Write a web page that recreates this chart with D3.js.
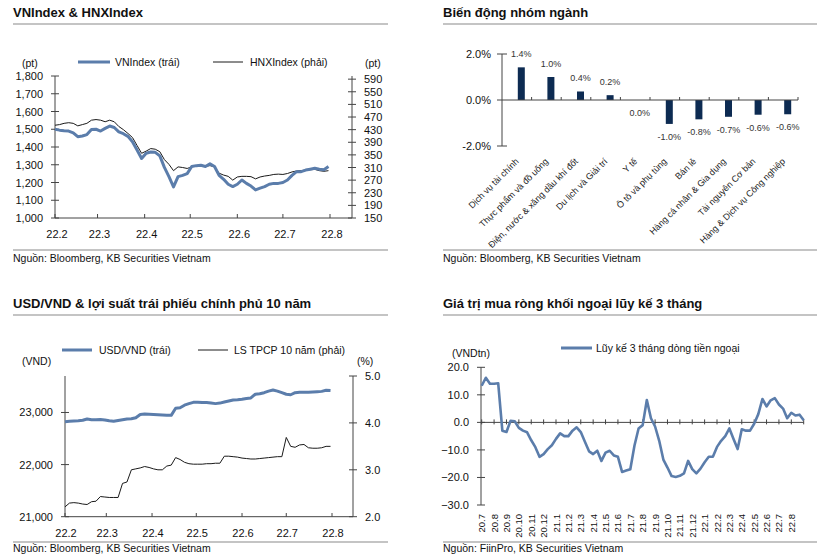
<!DOCTYPE html>
<html><head><meta charset="utf-8">
<script src="https://cdn.jsdelivr.net/npm/d3@7"></script>
<style>
body{margin:0;background:#fff}
svg{display:block}
text{font-family:"Liberation Sans",Arial,sans-serif;fill:#111}
</style>
</head><body><svg id="c" width="821" height="560"></svg>
<script>
// ---------- DATA ----------
// Panel 1: VNIndex & HNXIndex, one reading every 3 days from 2022-02-01
const idxStart = "2022-02-01";
const idxStepDays = 3;
const vnIndex = [1500,1495,1492,1490,1480,1458,1462,1470,1498,1500,
  1490,1505,1518,1510,1485,1475,1460,1430,1383,1335,
  1365,1372,1370,1350,1285,1233,1175,1233,1240,1250,
  1290,1295,1297,1290,1305,1290,1240,1218,1190,1177,
  1190,1214,1195,1180,1158,1168,1177,1190,1195,1195,
  1200,1214,1240,1261,1261,1270,1275,1280,1275,1272,1290];
const hnxIndex = [444,446,450,452,450,442,446,450,460,462,
  460,455,460,455,440,430,418,405,380,355,
  362,370,368,360,335,320,300,312,310,307,
  312,316,318,314,316,312,292,286,282,270,
  280,282,282,281,274,280,283,285,288,289,
  288,291,296,299,300,302,303,304,300,298,300];
const vnTicks = [1000,1100,1200,1300,1400,1500,1600,1700,1800];
const hnxTicks = [150,190,230,270,310,350,390,430,470,510,550,590];
const monthTickLabels = ["22.2","22.3","22.4","22.5","22.6","22.7","22.8"];

// Panel 2: sector performance (%)
const sectors = ["Dịch vụ tài chính","Thực phẩm và đồ uống","Điện, nước & xăng dầu khí đốt","Du lịch và Giải trí","Y tế","Ô tô và phụ tùng","Bán lẻ","Hàng cá nhân & Gia dụng","Tài nguyên Cơ bản","Hàng & Dịch vụ Công nghiệp"];
const sectorChange = [1.42,1.00,0.37,0.21,0.00,-1.04,-0.84,-0.73,-0.64,-0.62];
const sectorTicks = [-2,0,2];

// Panel 3: USD/VND & 10y bond yield, every 3 days from 2022-02-01
const usdVnd = [22823,22830,22835,22840,22850,22875,22860,22860,22865,22855,
  22840,22830,22845,22860,22875,22880,22900,22960,22970,22965,
  22960,22955,22950,22945,22945,23080,23090,23140,23170,23195,
  23195,23190,23190,23180,23170,23180,23200,23220,23240,23245,
  23255,23270,23280,23350,23360,23380,23410,23430,23410,23380,
  23350,23340,23380,23390,23390,23390,23395,23400,23405,23425,23420];
const bondYield = [2.21,2.29,2.30,2.29,2.27,2.26,2.32,2.33,2.43,2.42,
  2.41,2.41,2.41,2.71,2.74,3.00,3.02,3.04,3.07,3.05,
  3.02,3.00,3.00,3.08,3.10,3.26,3.22,3.16,3.13,3.12,
  3.12,3.12,3.13,3.13,3.14,3.14,3.29,3.29,3.28,3.27,
  3.25,3.24,3.23,3.23,3.24,3.25,3.26,3.27,3.28,3.28,
  3.69,3.50,3.48,3.53,3.54,3.47,3.46,3.46,3.47,3.50,3.50];
const usdTicks = [21000,22000,23000];
const bondTicks = [2,3,4,5];

// Panel 4: 3-month cumulative foreign flow (VND tn), 3 readings per month from Jul 2020
const flowPerMonth = 3;
const foreignFlow = [13.3,16.2,14.0,14.0,14.2,-3.0,-3.5,0.6,0.4,-2.0,
  -3.0,-3.6,-6.5,-9.0,-12.5,-11.5,-9.7,-8.3,-6.0,-4.0,
  -5.0,-5.0,-3.0,-1.8,-3.5,-7.0,-10.5,-11.5,-10.3,-14.0,
  -11.0,-10.3,-12.0,-12.5,-18.0,-17.5,-17.0,-8.5,-2.2,-1.0,
  8.1,1.5,-1.5,-6.7,-13.5,-16.4,-19.5,-19.8,-19.4,-18.5,
  -14.0,-17.0,-18.5,-16.8,-14.5,-12.5,-12.5,-8.9,-6.7,-5.0,
  -2.2,-6.0,-9.7,-2.5,-3.0,-3.0,-0.5,3.0,8.5,5.8,
  8.0,8.8,6.5,5.0,1.5,3.5,2.5,2.8,0.8];
const flowMonths = ["20.7","20.8","20.9","20.10","20.11","20.12","21.1","21.2","21.3","21.4","21.5","21.6","21.7","21.8","21.9","21.10","21.11","21.12","22.1","22.2","22.3","22.4","22.5","22.6","22.7","22.8"];
const flowTicks = [20,10,0,-10,-20,-30];

// ---------- STYLE ----------
const BLUE = "#5b7dab", BLACK = "#1a1a1a", AXIS = "#444", RULE = "#c4c4c4", BAR = "#0d2b52";
const svg = d3.select("#c");

function txt(g, x, y, s, o = {}) {
  return g.append("text").attr("x", x).attr("y", y).text(s)
    .attr("font-size", o.size || 10.5).attr("font-weight", o.bold ? "bold" : null)
    .attr("text-anchor", o.anchor || "start");
}
function line(g, x1, y1, x2, y2, c = AXIS, w = 1) {
  g.append("line").attr("x1", x1).attr("y1", y1).attr("x2", x2).attr("y2", y2)
    .attr("stroke", c).attr("stroke-width", w);
}
function panelFrame(x0, x1, titleY, title, ruleY, srcRuleY, srcY, src) {
  txt(svg, x0, titleY, title, {size: 13, bold: true});
  line(svg, x0, ruleY, x1, ruleY, RULE, 2);
  line(svg, x0, srcRuleY, x1, srcRuleY, RULE, 2);
  txt(svg, x0, srcY, src, {size: 10.5});
}
function vAxis(g, scale, ticks, x, fmt, side) {
  const [r0, r1] = scale.range();
  line(g, x, r0, x, r1);
  ticks.forEach(t => {
    const y = scale(t);
    line(g, x - 4, y, x + 4, y);
    if (side === "left") txt(g, x - 12, y + 4, fmt(t), {size: 11, anchor: "end"});
    else txt(g, x + 12, y + 4, fmt(t), {size: 11});
  });
}

const dateParse = d3.timeParse("%Y-%m-%d");
const t0 = dateParse(idxStart);
const idxDates = vnIndex.map((_, i) => d3.timeDay.offset(t0, i * idxStepDays));
const monthDates = monthTickLabels.map((_, i) => d3.timeMonth.offset(t0, i));
const comma = d3.format(",");

// ---------- PANEL 1 ----------
{
  panelFrame(13, 388, 17, "VNIndex & HNXIndex", 24, 250, 262, "Nguồn: Bloomberg, KB Securities Vietnam");
  const g = svg.append("g");
  const x = d3.scaleTime().domain([monthDates[0], monthDates[monthDates.length - 1]]).range([55, 330]);
  const yL = d3.scaleLinear().domain([1000, 1800]).range([218, 76]);
  const yR = d3.scaleLinear().domain([150, 600]).range([218, 76]);
  vAxis(g, yL, vnTicks, 55, comma, "left");
  vAxis(g, yR, hnxTicks, 352, d3.format("d"), "right");
  line(g, 55, 218, 352, 218);
  monthDates.forEach((d, i) => {
    line(g, x(d), 218, x(d), 214);
    txt(g, x(d) + 2, 238, monthTickLabels[i], {size: 11, anchor: "middle"});
  });
  txt(g, 22, 67, "(pt)", {size: 10.5});
  txt(g, 365, 67, "(pt)", {size: 10.5});
  line(g, 78, 62, 110, 62, BLUE, 3);
  txt(g, 115, 66, "VNIndex (trái)", {size: 10.5});
  line(g, 213, 62, 243, 62, BLACK, 1);
  txt(g, 250, 66, "HNXIndex (phải)", {size: 10.5});
  g.append("path").datum(hnxIndex).attr("fill", "none").attr("stroke", BLACK).attr("stroke-width", 1)
    .attr("d", d3.line().x((d, i) => x(idxDates[i])).y(d => yR(d)));
  g.append("path").datum(vnIndex).attr("fill", "none").attr("stroke", BLUE).attr("stroke-width", 3)
    .attr("stroke-linejoin", "round")
    .attr("d", d3.line().x((d, i) => x(idxDates[i])).y(d => yL(d)));
}

// ---------- PANEL 2 ----------
{
  panelFrame(443, 817, 17, "Biến động nhóm ngành", 24, 250, 262, "Nguồn: Bloomberg, KB Securities Vietnam");
  const g = svg.append("g");
  const x = d3.scaleBand().domain(sectors).range([502, 798]);
  const y = d3.scaleLinear().domain([-2, 2]).range([146, 54]);
  const off = 4.5, bw = 7;
  sectorTicks.forEach(t => {
    line(g, 497, y(t), t === 0 ? 502 : 507, y(t));
    txt(g, 491, y(t) + 4, t.toFixed(1) + "%", {size: 11, anchor: "end"});
  });
  line(g, 502, y(2), 502, y(-2));
  sectors.forEach((s, i) => {
    const v = sectorChange[i];
    const cx = x(s) + x.bandwidth() / 2 + off;
    g.append("rect").attr("x", cx - bw / 2).attr("width", bw)
      .attr("y", Math.min(y(v), y(0))).attr("height", Math.abs(y(v) - y(0))).attr("fill", BAR);
    const ly = v > 0 ? y(v) - 13 : y(v) + 13;
    txt(g, cx, ly + 3, v.toFixed(1) + "%", {size: 9, anchor: "middle"}).style("fill", "#333");
    g.append("text").attr("transform", `translate(${cx - 2},162) rotate(-45)`)
      .attr("text-anchor", "end").attr("font-size", 9).style("fill", "#222").text(s);
    line(g, x(s) + x.bandwidth(), y(0), x(s) + x.bandwidth(), y(0) - 3);
  });
  line(g, 502, y(0), 798, y(0));
}

// ---------- PANEL 3 ----------
{
  panelFrame(13, 388, 308, "USD/VND & lợi suất trái phiếu chính phủ 10 năm", 315, 542, 552, "Nguồn: Bloomberg, KB Securities Vietnam");
  const g = svg.append("g");
  const x = d3.scaleTime().domain([monthDates[0], monthDates[monthDates.length - 1]]).range([65, 332]);
  const yL = d3.scaleLinear().domain([21000, 23700]).range([516.7, 376]);
  const yR = d3.scaleLinear().domain([2, 5]).range([516.7, 376]);
  vAxis(g, yL, usdTicks, 65, comma, "left");
  vAxis(g, yR, bondTicks, 353, d3.format(".1f"), "right");
  line(g, 65, 516.7, 353, 516.7);
  monthDates.forEach((d, i) => {
    line(g, x(d), 516.7, x(d), 513);
    txt(g, x(d) + 1, 537, monthTickLabels[i], {size: 11, anchor: "middle"});
  });
  txt(g, 22, 365, "(VND)", {size: 10.5});
  txt(g, 357, 365, "(%)", {size: 10.5});
  line(g, 62, 350, 92, 350, BLUE, 3);
  txt(g, 99, 354, "USD/VND (trái)", {size: 10.5});
  line(g, 198, 350, 228, 350, BLACK, 1);
  txt(g, 234, 354, "LS TPCP 10 năm (phải)", {size: 10.5});
  g.append("path").datum(bondYield).attr("fill", "none").attr("stroke", BLACK).attr("stroke-width", 1)
    .attr("d", d3.line().x((d, i) => x(idxDates[i])).y(d => yR(d)));
  g.append("path").datum(usdVnd).attr("fill", "none").attr("stroke", BLUE).attr("stroke-width", 3)
    .attr("stroke-linejoin", "round")
    .attr("d", d3.line().x((d, i) => x(idxDates[i])).y(d => yL(d)));
}

// ---------- PANEL 4 ----------
{
  panelFrame(443, 817, 308, "Giá trị mua ròng khối ngoại lũy kế 3 tháng", 315, 542, 552, "Nguồn: FiinPro, KB Securities Vietnam");
  const g = svg.append("g");
  const x = d3.scaleLinear().domain([0, flowMonths.length]).range([481.7, 803.7]);
  const y = d3.scaleLinear().domain([-30, 20]).range([505, 367.3]);
  vAxis(g, y, flowTicks, 481, d3.format(".1f"), "left");
  line(g, 481, y(0), 803.7, y(0));
  d3.range(flowMonths.length + 1).forEach(i => line(g, x(i), y(0) - 3, x(i), y(0) + 2));
  flowMonths.forEach((m, i) => {
    g.append("text").attr("transform", `translate(${x(i) + 3.5},514) rotate(-90)`)
      .attr("text-anchor", "end").attr("font-size", 9.5).text(m);
  });
  txt(g, 452, 357, "(VNDtn)", {size: 10.5});
  line(g, 561, 348, 592, 348, BLUE, 3);
  txt(g, 596, 352, "Lũy kế 3 tháng dòng tiền ngoại", {size: 10.5});
  g.append("path").datum(foreignFlow).attr("fill", "none").attr("stroke", BLUE).attr("stroke-width", 2.6)
    .attr("stroke-linejoin", "round")
    .attr("d", d3.line().x((d, i) => x(i / flowPerMonth)).y(d => y(d)));
}
</script></body></html>
